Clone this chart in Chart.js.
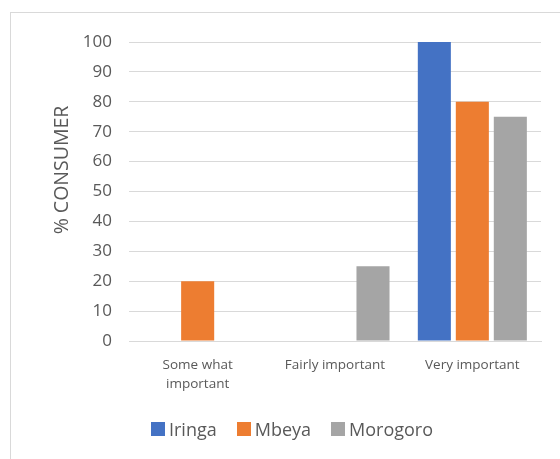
<!DOCTYPE html>
<html>
<head>
<meta charset="utf-8">
<script src="https://cdn.jsdelivr.net/npm/chart.js@4.4.0/dist/chart.umd.min.js"></script>
<style>
  html, body { margin: 0; padding: 0; background: #fff; overflow: hidden; }
  body { width: 560px; height: 459px; position: relative; font-family: "Open Sans", sans-serif; }
  .frame {
    position: absolute; left: 10px; top: 12px; width: 600px; height: 500px;
    border: 1px solid #d9d9d9; box-sizing: border-box;
  }
  .wrap { position: absolute; left: 0; top: 0; width: 560px; height: 459px; }
  #legend {
    position: absolute; left: 0; top: 417px; width: 560px;
    display: flex; justify-content: center; gap: 20px;
    font-size: 18px; color: #595959; padding-left: 24px; box-sizing: border-box;
  }
  .lg-item { display: flex; align-items: center; }
  .lg-box  { width: 14px; height: 14px; margin-right: 4px; }
</style>
</head>
<body>
<div class="frame"></div>
<div class="wrap"><canvas id="chart" width="560" height="459"></canvas></div>
<div id="legend"></div>

<script>
// ── Data ──────────────────────────────────
const categories = [["Some what", "important"], "Fairly important", "Very important"];
const seriesNames  = ["Iringa", "Mbeya", "Morogoro"];
const seriesColors = ["#4472c4", "#ed7d31", "#a5a5a5"];
const iringa   = [0, 0, 100];
const mbeya    = [20, 0, 80];
const morogoro = [0, 25, 75];
const yTicks   = [0, 10, 20, 30, 40, 50, 60, 70, 80, 90, 100];
const yTitle   = "% CONSUMER";

const textGray = "#595959";
const gridGray = "#d9d9d9";

// ── Y axis title (drawn off-centre like the original) ──
const yTitlePlugin = {
  id: "yTitle",
  afterDraw(chart) {
    const ctx = chart.ctx;
    ctx.save();
    ctx.translate(62, 170);
    ctx.rotate(-Math.PI / 2);
    ctx.font = "19.5px 'Open Sans'";
    ctx.fillStyle = textGray;
    ctx.textAlign = "center";
    ctx.textBaseline = "middle";
    ctx.fillText(yTitle, 0, 0);
    ctx.restore();
  }
};

const seriesData = [iringa, mbeya, morogoro];

const chart = new Chart(document.getElementById("chart"), {
  type: "bar",
  data: {
    labels: categories,
    datasets: seriesNames.map((name, i) => ({
      label: name,
      data: seriesData[i],
      backgroundColor: seriesColors[i],
      borderWidth: 0,
      categoryPercentage: 0.83,
      barPercentage: 0.87,
    })),
  },
  options: {
    responsive: false,
    animation: false,
    layout: { padding: { left: 0, top: 42, right: 19, bottom: 0 } },
    plugins: {
      legend:  { display: false },
      tooltip: { enabled: false },
    },
    scales: {
      x: {
        grid:   { display: false },
        border: { display: true, color: gridGray, width: 1 },
        ticks:  {
          color: textGray, padding: 7, maxRotation: 0,
          font: { family: "'Open Sans'", size: 13.5, lineHeight: 1.4 },
        },
        afterFit: s => { s.height = 118; },
      },
      y: {
        min: 0, max: 100,
        afterBuildTicks: s => { s.ticks = yTicks.map(v => ({ value: v })); },
        grid:   { color: gridGray, drawTicks: false },
        border: { display: false },
        ticks:  {
          color: textGray, padding: 17,
          font: { family: "'Open Sans'", size: 17 },
        },
        afterFit: s => { s.width = 129; },
      },
    },
  },
  plugins: [yTitlePlugin],
});

// ── Legend ────────────────────────────────
const legend = document.getElementById("legend");
seriesNames.forEach((name, i) => {
  const item = document.createElement("div");
  item.className = "lg-item";
  item.innerHTML = `<span class="lg-box" style="background:${seriesColors[i]}"></span><span>${name}</span>`;
  legend.appendChild(item);
});
</script>
</body>
</html>
